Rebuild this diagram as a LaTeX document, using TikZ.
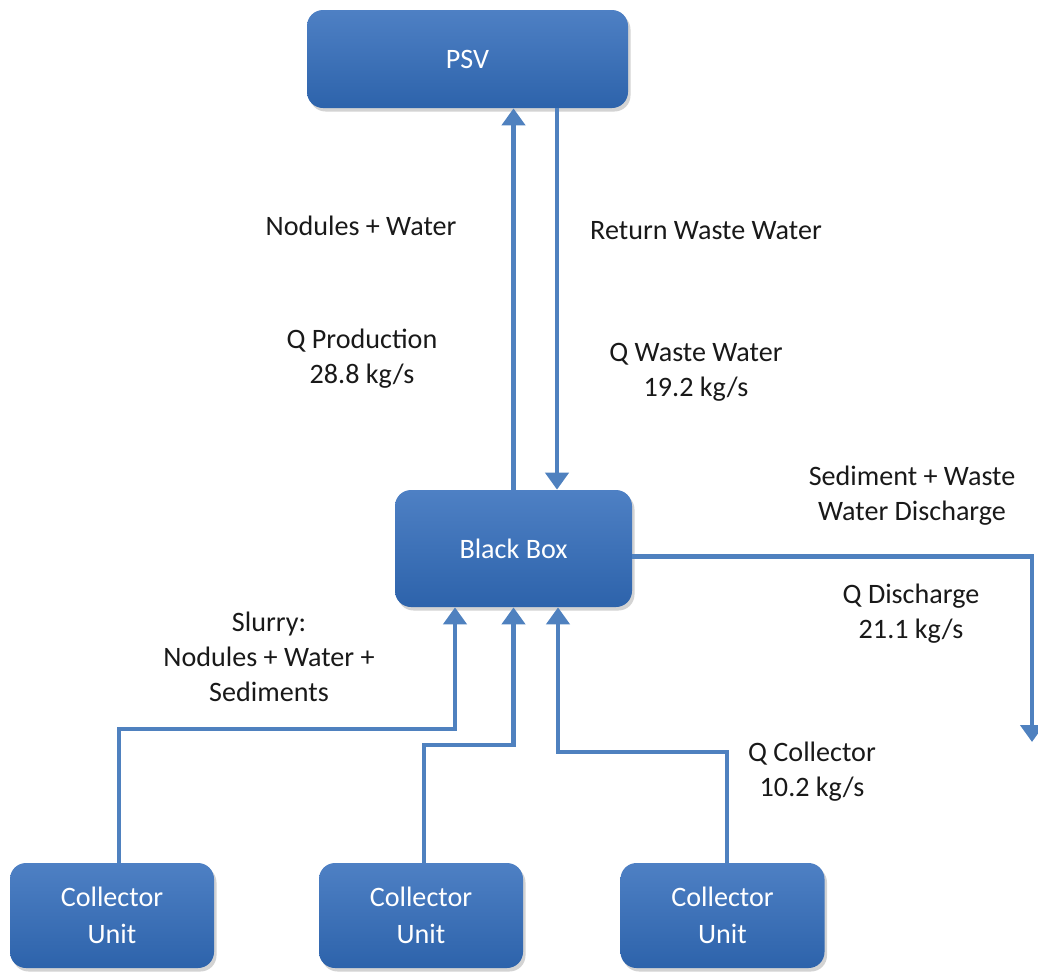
\documentclass[tikz,border=0pt]{standalone}
\usepackage{fontspec}
\setmainfont{Carlito}
\usetikzlibrary{arrows.meta, shadows}
\definecolor{boxtop}{RGB}{78,128,196}
\definecolor{boxbot}{RGB}{45,99,171}
\definecolor{flow}{RGB}{79,129,191}
\definecolor{labtext}{RGB}{25,25,25}
\tikzstyle{unit} = [
    rectangle,
    rounded corners=0.32cm,
    top color=boxtop,
    bottom color=boxbot,
    draw=none,
    text=white,
    align=center,
    font=\fontsize{16}{21}\selectfont,
    drop shadow={shadow xshift=0.05cm, shadow yshift=-0.07cm, opacity=0.35}
]
\tikzstyle{label} = [
    align=center,
    text=labtext,
    font=\fontsize{16}{20}\selectfont
]
\tikzstyle{arrow} = [line width=2.8pt, draw=flow, -{Triangle[width=0.46cm, length=0.34cm]}]

\begin{document}
\begin{tikzpicture}
\useasboundingbox (0,0) rectangle (20.76,-19.42);

\node (psv) [unit, minimum width=6.42cm, minimum height=1.96cm] at (9.35,-1.18) {PSV};

\node (bb) [unit, minimum width=4.74cm, minimum height=2.34cm] at (10.27,-10.97) {Black Box};

\node (cu1) [unit, minimum width=4.08cm, minimum height=2.1cm] at (2.24,-18.31) {Collector\\Unit};
\node (cu2) [unit, minimum width=4.08cm, minimum height=2.1cm] at (8.42,-18.31) {Collector\\Unit};
\node (cu3) [unit, minimum width=4.08cm, minimum height=2.1cm] at (14.45,-18.31) {Collector\\Unit};

% labels
\node (nodwat) [label] at (7.22,-4.52) {Nodules + Water};
\node (retww) [label] at (14.12,-4.62) {Return Waste Water};
\node (qprod) [label] at (7.24,-7.18) {Q Production\\28.8 kg/s};
\node (qww) [label] at (13.92,-7.44) {Q Waste Water\\19.2 kg/s};
\node (sedww) [label] at (18.24,-9.92) {Sediment + Waste\\Water Discharge};
\node (qdis) [label] at (18.22,-12.28) {Q Discharge\\21.1 kg/s};
\node (slurry) [label] at (5.38,-13.14) {Slurry:\\Nodules + Water +\\Sediments};
\node (qcol) [label] at (16.24,-15.44) {Q Collector\\10.2 kg/s};

% bends and free ends
\coordinate (ret) at (11.14,0);
\coordinate (j1) at (9.10,-14.58);
\coordinate (j2) at (10.27,-14.90);
\coordinate (j3) at (11.16,-15.04);
\coordinate (dis) at (20.64,-14.84);

\draw [arrow] (bb.north) -- (bb.north |- psv.south);
\draw [arrow] (ret |- psv.south) -- (ret |- bb.north);
\draw [arrow] ([yshift=-0.16cm]bb.east) -| (dis);
\draw [arrow] ([xshift=0.14cm]cu1.north) |- (j1) -- (j1 |- bb.south);
\draw [arrow] ([xshift=0.06cm]cu2.north) |- (j2) -- (j2 |- bb.south);
\draw [arrow] ([xshift=0.09cm]cu3.north) |- (j3) -- (j3 |- bb.south);

\end{tikzpicture}
\end{document}
